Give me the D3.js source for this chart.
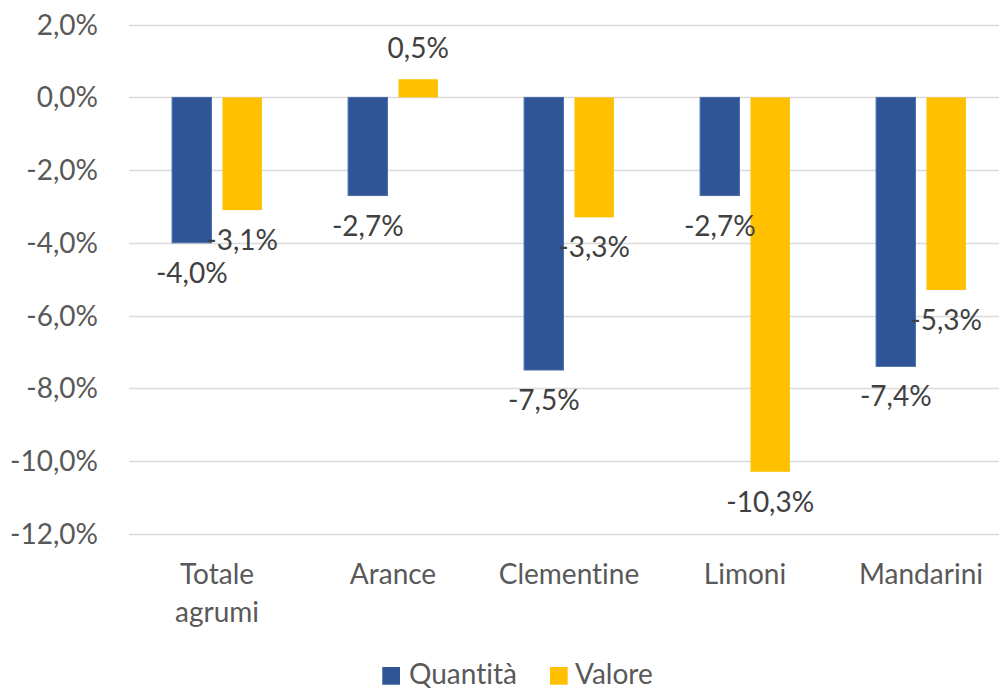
<!DOCTYPE html>
<html>
<head>
<meta charset="utf-8">
<script src="https://cdn.jsdelivr.net/npm/d3@7"></script>
<style>
  body { margin: 0; background: #fff; }
  svg { display: block; }
  text { font-family: Lato, "Open Sans", sans-serif; font-variant-ligatures: none; font-feature-settings: "liga" 0, "dlig" 0; }
</style>
</head>
<body>
<svg id="chart" width="999" height="689"></svg>
<script>
const categories = [["Totale", "agrumi"], ["Arance"], ["Clementine"], ["Limoni"], ["Mandarini"]];
const seriesNames = ["Quantità", "Valore"];
const quantita = [-4.0, -2.7, -7.5, -2.7, -7.4];
const valore = [-3.1, 0.5, -3.3, -10.3, -5.3];
const yTicks = [2, 0, -2, -4, -6, -8, -10, -12];
const colors = ["#2F5597", "#FFC000"];

const svg = d3.select("#chart");
const catKeys = categories.map(c => c.join(" "));
const values = [quantita, valore];

const x0 = d3.scaleBand().domain(catKeys).range([129, 1009]).padding(0);
const x1 = d3.scaleBand().domain(seriesNames).range([0, x0.bandwidth()])
  .paddingInner(0.218).paddingOuter(0.855);
const y = d3.scaleLinear().domain([-12, 2]).range([533.6, 24.7]);

const fmt = v => d3.format(".1f")(v).replace(".", ",").replace("−", "-") + "%";

// gridlines
svg.append("g").selectAll("line").data(yTicks).join("line")
  .attr("x1", 129).attr("x2", 999)
  .attr("y1", d => Math.round(y(d)) + 0.5).attr("y2", d => Math.round(y(d)) + 0.5)
  .attr("stroke", "#D9D9D9").attr("stroke-width", 1.5);

// y tick labels
svg.append("g").selectAll("text").data(yTicks).join("text")
  .attr("x", 98).attr("y", d => y(d) + 10)
  .attr("text-anchor", "end").attr("font-size", 28).attr("fill", "#595959")
  .text(d => fmt(d));

// bars
const groups = svg.append("g").selectAll("g").data(catKeys).join("g")
  .attr("transform", d => `translate(${x0(d)},0)`);

seriesNames.forEach((s, si) => {
  groups.append("rect")
    .attr("x", x1(s))
    .attr("width", x1.bandwidth())
    .attr("y", (d, i) => Math.min(y(0), y(values[si][i])))
    .attr("height", (d, i) => Math.abs(y(values[si][i]) - y(0)))
    .attr("fill", colors[si])
    .attr("stroke", si === 0 ? "#4A6FAA" : "none")
    .attr("stroke-width", 1);
});

// data labels
seriesNames.forEach((s, si) => {
  groups.append("text")
    .attr("x", x1(s) + x1.bandwidth() / 2)
    .attr("y", (d, i) => {
      const v = values[si][i];
      return v < 0 ? y(v) + 40 : y(v) - 21;
    })
    .attr("text-anchor", "middle").attr("font-size", 28).attr("fill", "#404040")
    .text((d, i) => fmt(values[si][i]));
});

// category labels
svg.append("g").selectAll("text").data(categories).join("text")
  .attr("x", (d, i) => x0(catKeys[i]) + x0.bandwidth() / 2)
  .attr("y", 584)
  .attr("text-anchor", "middle").attr("font-size", 28).attr("fill", "#595959")
  .each(function(d) {
    const t = d3.select(this);
    d.forEach((line, li) => {
      t.append("tspan").attr("x", t.attr("x")).attr("dy", li === 0 ? 0 : 38).text(line);
    });
  });

// legend
const legendItems = [
  { name: seriesNames[0], color: colors[0], sx: 382.3, tx: 409 },
  { name: seriesNames[1], color: colors[1], sx: 550, tx: 575 }
];
const lg = svg.append("g");
legendItems.forEach(it => {
  lg.append("rect").attr("x", it.sx).attr("y", 667).attr("width", 17.7).attr("height", 17.7).attr("fill", it.color);
  lg.append("text").attr("x", it.tx).attr("y", 684).attr("font-size", 28).attr("fill", "#595959").text(it.name);
});
</script>
</body>
</html>
